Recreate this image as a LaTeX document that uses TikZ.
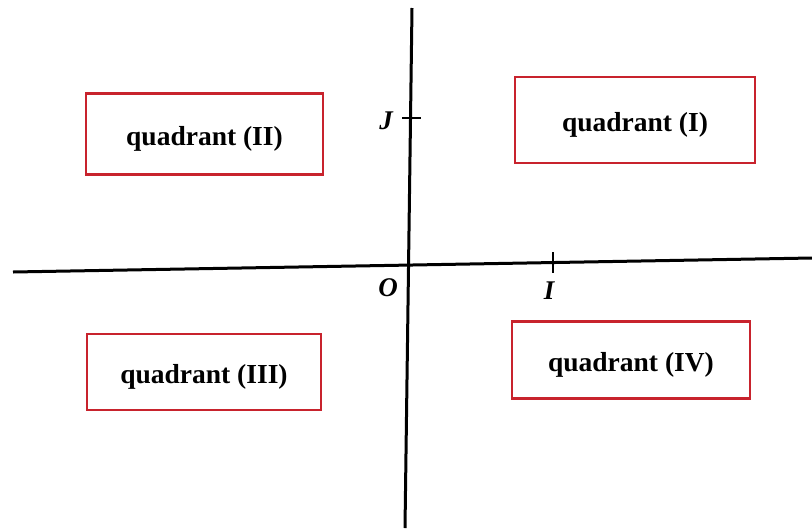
\documentclass[tikz,border=0pt]{standalone}
\usepackage{fontspec}
\setmainfont{Liberation Serif}
\definecolor{boxred}{RGB}{200,35,45}
\newcommand{\qtext}[1]{\raisebox{-5pt}[\height][\depth]{#1}}
\begin{document}
\begin{tikzpicture}[x=1pt,y=-1pt,
  quad/.style={draw=boxred,line width=2.6pt,minimum width=#1,inner sep=0pt,font=\fontsize{27.5}{30}\selectfont\bfseries},
  axis/.style={line width=3pt,black},
  lab/.style={font=\fontsize{27}{30}\selectfont\bfseries\itshape,inner sep=0pt}]
\useasboundingbox (0,0) rectangle (812,528);
\coordinate (xl) at (13,272);
\coordinate (xr) at (812,258);
\coordinate (yt) at (412,8);
\coordinate (yb) at (405,528);
\draw[axis] (xl) -- (xr);
\draw[axis] (yt) -- (yb);
\coordinate (ja) at (402,118);
\coordinate (jb) at (421,118);
\draw[line width=2.6pt] (ja) -- (jb);
\coordinate (ia) at (553,252);
\coordinate (ib) at (553,273);
\draw[line width=2.6pt] (ia) -- (ib);
\node[lab] (J) at (386,121) {J};
\node[lab] (O) at (388,288) {O};
\node[lab] (I) at (549,291) {I};
\node[quad=237pt,minimum height=81pt] (q2) at (204.5,134) {\qtext{quadrant (II)}};
\node[quad=240pt,minimum height=86pt] (q1) at (635,120) {\qtext{quadrant (I)}};
\node[quad=234pt,minimum height=76pt] (q3) at (204,372) {\qtext{quadrant (III)}};
\node[quad=238pt,minimum height=77pt] (q4) at (631,360) {\qtext{quadrant (IV)}};
\end{tikzpicture}
\end{document}
